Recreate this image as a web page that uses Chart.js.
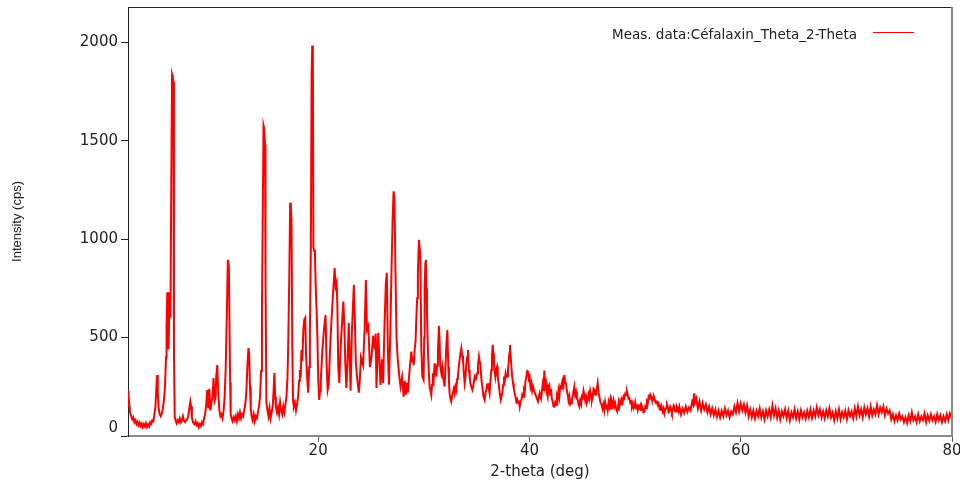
<!DOCTYPE html>
<html><head><meta charset="utf-8">
<script src="https://cdn.jsdelivr.net/npm/chart.js@4.4.1/dist/chart.umd.min.js"></script>
<style>html,body{margin:0;padding:0;background:#fff;}canvas{display:block;}</style>
</head><body>
<canvas id="c" width="960" height="482"></canvas>
<script>
const seriesLabel = 'Meas. data:Céfalaxin_Theta_2-Theta';
const xTitle = '2-theta (deg)';
const yTitle = 'Intensity (cps)';
const xTicks = [20, 40, 60, 80];
const yTicks = [0, 500, 1000, 1500, 2000];
const lineColor = '#ff0000';

const twoTheta = [
2.0,2.05,2.1,2.2,2.3,2.4,2.5,2.6,2.7,2.8,
2.9,3.0,3.1,3.2,3.3,3.4,3.5,3.6,3.7,3.8,
3.9,4.0,4.1,4.2,4.3,4.4,4.5,4.6,4.7,4.76,
4.82,4.9,5.0,5.1,5.2,5.3,5.4,5.5,5.6,5.65,
5.72,5.78,5.84,5.9,5.95,6.02,6.09,6.17,6.24,6.3,
6.35,6.42,6.5,6.6,6.7,6.8,6.9,7.0,7.1,7.2,
7.3,7.4,7.5,7.6,7.7,7.8,7.9,7.97,8.05,8.15,
8.3,8.4,8.5,8.6,8.7,8.8,8.9,9.0,9.1,9.2,
9.3,9.4,9.5,9.6,9.7,9.8,9.9,10.0,10.1,10.2,
10.3,10.35,10.45,10.55,10.65,10.75,10.85,10.95,11.05,11.15,
11.25,11.35,11.45,11.55,11.62,11.67,11.72,11.8,11.9,12.0,
12.1,12.2,12.3,12.4,12.5,12.6,12.7,12.8,12.9,13.0,
13.1,13.2,13.3,13.4,13.47,13.55,13.62,13.7,13.8,13.9,
14.0,14.1,14.2,14.3,14.4,14.5,14.6,14.68,14.75,14.83,
14.9,14.97,15.02,15.1,15.2,15.3,15.4,15.5,15.6,15.7,
15.8,15.86,15.93,16.0,16.1,16.2,16.3,16.4,16.5,16.6,
16.7,16.8,16.9,17.0,17.1,17.17,17.27,17.35,17.42,17.48,
17.55,17.62,17.7,17.8,17.9,18.0,18.1,18.2,18.27,18.35,
18.42,18.5,18.6,18.68,18.78,18.85,18.97,19.06,19.15,19.22,
19.31,19.38,19.44,19.5,19.55,19.62,19.69,19.76,19.85,19.93,
20.01,20.1,20.18,20.25,20.4,20.55,20.7,20.8,20.9,21.0,
21.1,21.18,21.3,21.43,21.56,21.65,21.75,21.82,21.9,22.0,
22.15,22.38,22.47,22.57,22.67,22.78,22.9,22.98,23.07,23.2,
23.38,23.47,23.57,23.7,23.85,23.95,24.05,24.25,24.4,24.52,
24.62,24.75,24.9,25.05,25.2,25.35,25.45,25.52,25.69,25.8,
25.9,26.05,26.15,26.28,26.41,26.5,26.6,26.7,26.82,26.95,
27.05,27.14,27.22,27.32,27.42,27.52,27.65,27.8,27.95,28.09,
28.2,28.3,28.4,28.5,28.6,28.7,28.82,28.9,28.97,29.05,
29.13,29.22,29.29,29.37,29.44,29.54,29.6,29.67,29.76,29.86,
29.98,30.04,30.08,30.15,30.2,30.25,30.3,30.39,30.47,30.55,
30.63,30.71,30.78,30.86,30.94,31.02,31.1,31.18,31.26,31.34,
31.43,31.5,31.56,31.66,31.74,31.81,31.89,31.97,32.05,32.13,
32.23,32.32,32.38,32.44,32.52,32.6,32.68,32.76,32.84,32.92,
33.0,33.08,33.16,33.23,33.31,33.39,33.47,33.55,33.63,33.71,
33.79,33.87,33.95,34.03,34.1,34.18,34.28,34.35,34.41,34.5,
34.6,34.7,34.82,34.93,35.04,35.13,35.22,35.28,35.35,35.45,
35.54,35.65,35.76,35.84,35.92,36.0,36.07,36.15,36.23,36.31,
36.39,36.45,36.52,36.58,36.64,36.7,36.77,36.85,36.93,37.0,
37.09,37.18,37.28,37.36,37.43,37.51,37.59,37.67,37.75,37.83,
37.91,37.97,38.03,38.1,38.16,38.22,38.29,38.37,38.45,38.52,
38.6,38.68,38.76,38.84,38.92,39.0,39.08,39.16,39.24,39.32,
39.4,39.48,39.55,39.63,39.71,39.79,39.86,39.94,40.02,40.1,
40.18,40.26,40.34,40.5,40.65,40.81,40.97,
41.1,41.25,41.33,41.41,41.49,41.57,41.65,41.73,41.8,41.88,
41.96,42.04,42.12,42.2,42.28,42.36,42.44,42.52,42.6,42.67,
42.75,42.83,42.91,42.99,43.07,43.15,43.23,43.31,43.38,43.46,
43.54,43.62,43.7,43.78,43.86,43.94,44.02,44.1,44.18,44.25,
44.33,44.41,44.49,44.57,44.65,44.73,44.8,44.88,44.96,45.04,
45.12,45.2,45.28,45.36,45.44,45.52,45.6,45.67,45.75,45.83,
45.91,45.99,46.07,46.15,46.23,46.3,46.38,46.46,46.54,46.62,
46.7,46.78,46.86,46.94,47.02,47.09,47.17,47.25,47.33,47.41,
47.49,47.57,47.65,47.73,47.8,47.88,47.96,48.04,48.12,48.2,
48.28,48.36,48.44,48.51,48.59,48.67,48.75,48.83,48.91,48.99,
49.07,49.15,49.23,49.3,49.38,49.46,49.54,49.62,49.7,49.78,
49.86,49.94,50.01,50.09,50.17,50.25,50.33,50.41,50.49,50.57,
50.65,50.72,50.8,50.88,50.96,51.04,51.12,51.2,51.28,51.36,
51.44,51.51,51.59,51.67,51.75,51.83,51.91,51.99,52.07,52.15,
52.23,52.3,52.38,52.46,52.54,52.62,52.7,52.78,52.86,52.94,
53.02,53.09,53.17,53.25,53.33,53.41,53.49,53.57,53.65,53.72,
53.8,53.88,53.96,54.04,54.12,54.2,
54.35,54.5,54.65,54.8,54.95,55.1,55.25,55.4,55.5,55.59,
55.68,55.8,55.95,56.1,56.25,56.4,56.55,56.7,56.85,57.0,
57.15,57.3,57.45,57.6,57.75,57.9,58.05,58.2,58.35,58.5,
58.65,58.8,58.95,59.1,59.25,59.4,59.55,59.7,59.85,60.0,
60.15,60.3,60.45,60.6,60.75,60.9,61.05,61.2,61.35,61.5,
61.65,61.8,61.95,62.1,62.25,62.4,62.55,62.7,62.85,63.0,
63.15,63.3,63.45,63.6,63.75,63.9,64.05,64.2,64.35,64.5,
64.65,64.8,64.95,65.1,65.25,65.4,65.55,65.7,65.85,66.0,
66.15,66.3,66.45,66.6,66.75,66.9,67.05,67.2,67.35,67.5,
67.65,67.8,67.95,68.1,68.25,68.4,68.55,68.7,68.85,69.0,
69.15,69.3,69.45,69.6,69.75,69.9,70.05,70.2,70.35,70.5,
70.65,70.8,70.95,71.1,71.25,71.4,71.55,71.7,71.85,72.0,
72.15,72.3,72.45,72.6,72.75,72.9,73.05,73.2,73.35,73.5,
73.65,73.8,73.95,74.1,74.25,74.4,74.55,74.7,74.85,75.0,
75.15,75.3,75.45,75.6,75.75,75.9,76.05,76.2,76.35,76.5,
76.65,76.8,76.95,77.1,77.25,77.4,77.55,77.7,77.85,78.0,
78.15,78.3,78.45,78.6,78.75,78.9,79.05,79.2,79.35,79.5,
79.65,79.8,79.95,80.0
];

const cps = [
230,150,175,120,100,85,95,70,80,60,
72,55,68,50,62,45,60,48,65,45,
58,48,70,62,80,75,110,150,260,310,
220,140,110,100,115,140,180,250,400,560,
730,560,440,620,730,600,1236,1836,1820,1800,
440,100,80,65,80,70,90,70,80,100,
75,70,80,85,100,140,175,150,95,70,
60,75,55,65,45,60,50,70,60,90,
110,160,234,140,240,130,170,200,295,180,
200,300,360,220,130,100,110,90,130,200,
346,600,895,860,500,270,110,90,75,95,
80,100,75,110,90,120,90,110,100,130,
160,220,350,447,420,250,140,100,80,110,
75,100,90,120,150,200,330,625,1100,1577,
1560,1480,780,170,130,100,140,90,120,150,
250,320,200,150,120,145,110,170,130,110,
150,120,160,200,300,473,819,1185,1150,1100,
470,183,150,170,130,160,200,280,336,300,
437,380,539,590,600,420,285,220,350,539,
963,1827,1984,1900,960,940,946,778,640,500,
285,183,230,285,437,539,615,370,234,260,
400,505,625,742,854,760,780,660,356,270,
470,683,580,370,244,370,575,420,230,539,
768,600,370,290,220,290,400,360,540,793,
540,560,350,400,510,440,520,244,524,390,
260,390,270,560,778,829,437,260,500,860,
1100,1243,1215,829,500,400,320,250,300,200,
280,210,270,220,300,360,429,380,400,360,
437,480,590,700,827,997,960,929,454,302,
285,500,760,880,895,750,624,437,330,251,
230,208,260,319,290,370,340,302,360,420,
559,480,353,319,350,302,280,251,350,454,
539,353,280,217,190,175,200,200,240,217,
250,234,290,302,350,387,420,446,410,387,
320,268,300,370,400,437,336,300,268,250,
234,260,302,290,319,360,403,380,370,290,
251,200,183,220,234,260,268,240,217,280,
336,400,463,420,370,330,302,340,353,300,
268,220,183,200,217,260,302,280,319,300,
302,340,370,420,463,410,353,300,268,240,
217,200,175,185,166,180,149,175,183,210,
200,230,217,280,302,330,327,290,302,250,
268,230,251,220,200,175,217,
190,260,230,332,250,270,220,200,250,259,
210,240,190,175,150,149,170,158,200,185,
230,200,250,240,270,285,260,310,270,268,
230,210,180,200,160,166,190,200,230,251,
210,225,190,183,160,149,180,166,200,192,
230,208,180,200,170,183,210,192,230,208,
180,200,240,234,210,230,240,268,220,200,
175,166,150,141,160,132,170,141,160,132,
170,149,180,140,175,158,180,149,165,141,
130,132,170,149,175,160,185,175,200,192,
215,208,225,210,190,192,170,175,150,166,
140,149,170,141,160,132,150,141,155,132,
150,140,120,124,150,141,175,166,200,192,
210,200,185,183,205,192,175,166,180,158,
165,141,150,132,140,124,140,115,135,141,
160,149,120,124,150,141,120,132,155,149,
125,124,150,141,125,149,
110,140,118,150,122,145,130,175,160,217,
170,190,140,175,130,168,135,160,120,150,
110,140,105,135,98,130,95,128,100,140,
105,130,95,125,110,150,120,168,125,165,
130,160,118,155,100,135,95,130,90,128,
100,140,95,125,85,130,100,135,95,155,
105,140,92,130,85,125,100,135,90,128,
80,120,95,135,90,125,85,130,95,120,
88,128,95,135,92,130,100,145,105,135,
95,125,90,130,100,140,95,120,80,125,
90,135,85,120,95,128,85,130,100,125,
90,140,100,150,105,135,95,145,110,140,
100,150,105,135,110,155,110,145,120,150,
105,140,115,130,85,110,75,105,80,115,
85,100,70,95,65,105,75,120,80,100,
70,110,75,100,80,115,70,105,78,110,
80,100,72,110,80,105,70,100,75,110,
80,115,95,100
];

const n = Math.min(twoTheta.length, cps.length);
const points = [];
for (let i = 0; i < n; i++) points.push({ x: twoTheta[i], y: cps[i] });

const tickFont = { family: 'DejaVu Sans', size: 15 };
const textColor = '#222';

const framePlugin = {
  id: 'frame',
  beforeDraw(chart) {
    const ys = chart.scales.y;
    const items = ys.getLabelItems();
    items.forEach(it => {
      if (it.label === '0' && !it._moved) { it.options.translation[1] -= 8; it._moved = true; }
    });
  },
  afterDraw(chart) {
    const { ctx, chartArea: a } = chart;
    ctx.save();
    ctx.strokeStyle = '#222'; ctx.lineWidth = 1;
    ctx.beginPath(); ctx.moveTo(a.left, a.top + 0.5); ctx.lineTo(a.right, a.top + 0.5); ctx.stroke();
    ctx.strokeStyle = '#8a8a8a'; ctx.lineWidth = 2;
    ctx.beginPath(); ctx.moveTo(a.right, a.top); ctx.lineTo(a.right, a.bottom + 1); ctx.stroke();
    ctx.restore();
    ctx.save();
    const lx = a.right - 340, ly = a.top + 28;
    ctx.font = '13.5px "DejaVu Sans"';
    ctx.fillStyle = textColor; ctx.textBaseline = 'middle'; ctx.textAlign = 'left';
    ctx.fillText(chart.data.datasets[0].label, lx, ly);
    ctx.fillStyle = lineColor;
    ctx.fillRect(Math.round(a.right - 79), Math.round(ly - 3), 41, 1);
    ctx.restore();
  }
};

new Chart(document.getElementById('c').getContext('2d'), {
  type: 'line',
  data: {
    datasets: [{
      label: seriesLabel,
      data: points,
      borderColor: lineColor,
      borderWidth: 2,
      pointRadius: 0,
      tension: 0,
      fill: false
    }]
  },
  options: {
    responsive: false,
    animation: false,
    layout: { padding: { left: 0, right: 8, top: 7, bottom: 0 } },
    plugins: { legend: { display: false }, tooltip: { enabled: false } },
    scales: {
      x: {
        type: 'linear', min: 2, max: 80,
        afterBuildTicks: s => { s.ticks = xTicks.map(v => ({ value: v })); },
        afterFit: s => { s.height = 46; s.paddingLeft = 0; s.paddingRight = 0; },
        ticks: { font: tickFont, color: textColor, padding: 0, maxRotation: 0, autoSkip: false, callback: v => String(v) },
        grid: { drawOnChartArea: false, drawTicks: true, tickLength: 6, color: '#555' },
        border: { color: '#8a8a8a', width: 2 },
        title: { display: true, text: xTitle, color: textColor, font: { family: 'DejaVu Sans', size: 15 }, padding: { top: 0, bottom: 1 } }
      },
      y: {
        type: 'linear', min: 0, max: 2180,
        afterBuildTicks: s => { s.ticks = yTicks.map(v => ({ value: v })); },
        afterFit: s => { s.width = 128; s.paddingTop = 0; s.paddingBottom = 0; },
        ticks: { font: tickFont, color: textColor, padding: 3, autoSkip: false, callback: v => String(v) },
        grid: { drawOnChartArea: false, drawTicks: true, tickLength: 7, color: '#222' },
        border: { color: '#222', width: 1 },
        title: { display: true, text: yTitle, color: textColor, font: { family: 'Liberation Sans', size: 13 }, padding: { top: 10, bottom: 0 } }
      }
    }
  },
  plugins: [framePlugin]
});
</script>
</body></html>
